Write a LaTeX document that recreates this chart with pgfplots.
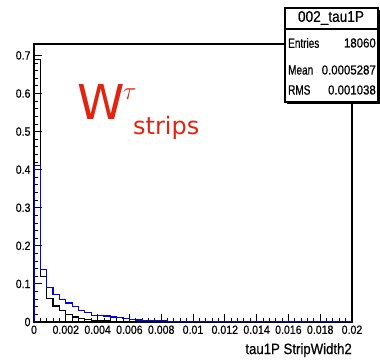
\documentclass[border=0pt]{standalone}
\usepackage{fontspec}
\setmainfont[FakeStretch=0.88, FakeBold=0.6]{Liberation Sans}
\newfontfamily\labfont[FakeStretch=0.74, FakeBold=0.6]{Liberation Sans}
\newfontfamily\wfont{DejaVu Sans}
\usepackage{pgfplots}
\pgfplotsset{compat=1.18}
\definecolor{wred}{RGB}{225,35,15}
\begin{document}
\begin{tikzpicture}
\useasboundingbox (0pt,0pt) rectangle (380pt,363pt);
\begin{axis}[at={(34pt,41pt)}, anchor=south west, scale only axis,
  width=318pt, height=278pt,
  xmin=0, xmax=0.02, ymin=0, ymax=0.73,
  xtick={0,0.002,0.004,0.006,0.008,0.01,0.012,0.014,0.016,0.018,0.02},
  ytick={0,0.1,0.2,0.3,0.4,0.5,0.6,0.7},
  minor x tick num=4, minor y tick num=4,
  tick align=inside, tick pos=left,
  major tick length=8pt, minor tick length=4pt,
  axis line style={line width=1.1pt},
  every tick/.style={black, line width=0.9pt},
  scaled x ticks=false, scaled y ticks=false,
  /pgf/number format/assume math mode=true,
  /pgf/number format/fixed, /pgf/number format/precision=3,
  xticklabel style={font=\fontsize{12}{12}\selectfont},
  yticklabel style={font=\fontsize{12}{12}\selectfont},
  xlabel={tau1P StripWidth2},
  xlabel style={at={(rel axis cs:1,0)}, anchor=north east, yshift=-21pt,
    inner sep=0pt, font=\fontsize{15}{15}\selectfont},
]
\addplot[const plot, black, line width=1.2pt] coordinates {
(0,0) (0,0.69) (0.0004,0.12) (0.0008,0.062) (0.0012,0.042) (0.0016,0.030)
(0.0020,0.020) (0.0024,0.013) (0.0028,0.010) (0.0032,0.007) (0.0036,0.004)
(0.0040,0.003) (0.0044,0.003) (0.0048,0.002) (0.0052,0.002) (0.0056,0.001)
(0.0060,0.001) (0.0064,0.001) (0.0068,0.001) (0.0072,0.001) (0.0076,0.001)
(0.0080,0) (0.02,0)
};
\addplot[const plot, blue, line width=1.2pt] coordinates {
(0,0) (0,0.41) (0.0004,0.137) (0.0008,0.090) (0.0012,0.072) (0.0016,0.060)
(0.0020,0.050) (0.0024,0.040) (0.0028,0.030) (0.0032,0.025) (0.0036,0.018)
(0.0040,0.017) (0.0044,0.016) (0.0048,0.013) (0.0052,0.012) (0.0056,0.010)
(0.0060,0.006) (0.0064,0.005) (0.0068,0.004) (0.0072,0.004) (0.0076,0.003)
(0.0080,0.003) (0.0084,0.002) (0.0088,0.002) (0.0092,0) (0.0112,0.002)
(0.0116,0) (0.02,0)
};
\end{axis}
% stats box
\fill[black] (287pt,259pt) rectangle (380pt,353pt);
\draw[fill=white, line width=1.1pt] (285pt,261pt) rectangle (378pt,355pt);
\draw[line width=1.1pt] (285pt,334pt) -- (378pt,334pt);
\node[inner sep=0pt, font=\fontsize{15.5}{15.5}\selectfont] at (331pt,345pt) {002\_tau1P};
\node[anchor=west, inner sep=0pt, font=\labfont\fontsize{13.5}{13.5}\selectfont] at (288pt,320pt) {Entries};
\node[anchor=east, inner sep=0pt, font=\fontsize{13}{13}\selectfont] at (376pt,320pt) {18060};
\node[anchor=west, inner sep=0pt, font=\labfont\fontsize{13.5}{13.5}\selectfont] at (288pt,293pt) {Mean};
\node[anchor=east, inner sep=0pt, font=\fontsize{13}{13}\selectfont] at (376pt,293pt) {0.0005287};
\node[anchor=west, inner sep=0pt, font=\labfont\fontsize{13.5}{13.5}\selectfont] at (288pt,273pt) {RMS};
\node[anchor=east, inner sep=0pt, font=\fontsize{13}{13}\selectfont] at (376pt,273pt) {0.001038};
% label
\node[anchor=base west, inner sep=0pt, text=wred, font=\wfont\fontsize{48}{48}\selectfont] at (77pt,243pt) {W};
\node[anchor=base west, inner sep=0pt, text=wred, font=\fontsize{24}{24}\selectfont] at (123pt,263pt) {$\tau$};
\node[anchor=base west, inner sep=0pt, text=wred, font=\wfont\fontsize{24}{24}\selectfont] at (133pt,228pt) {strips};
\end{tikzpicture}
\end{document}
